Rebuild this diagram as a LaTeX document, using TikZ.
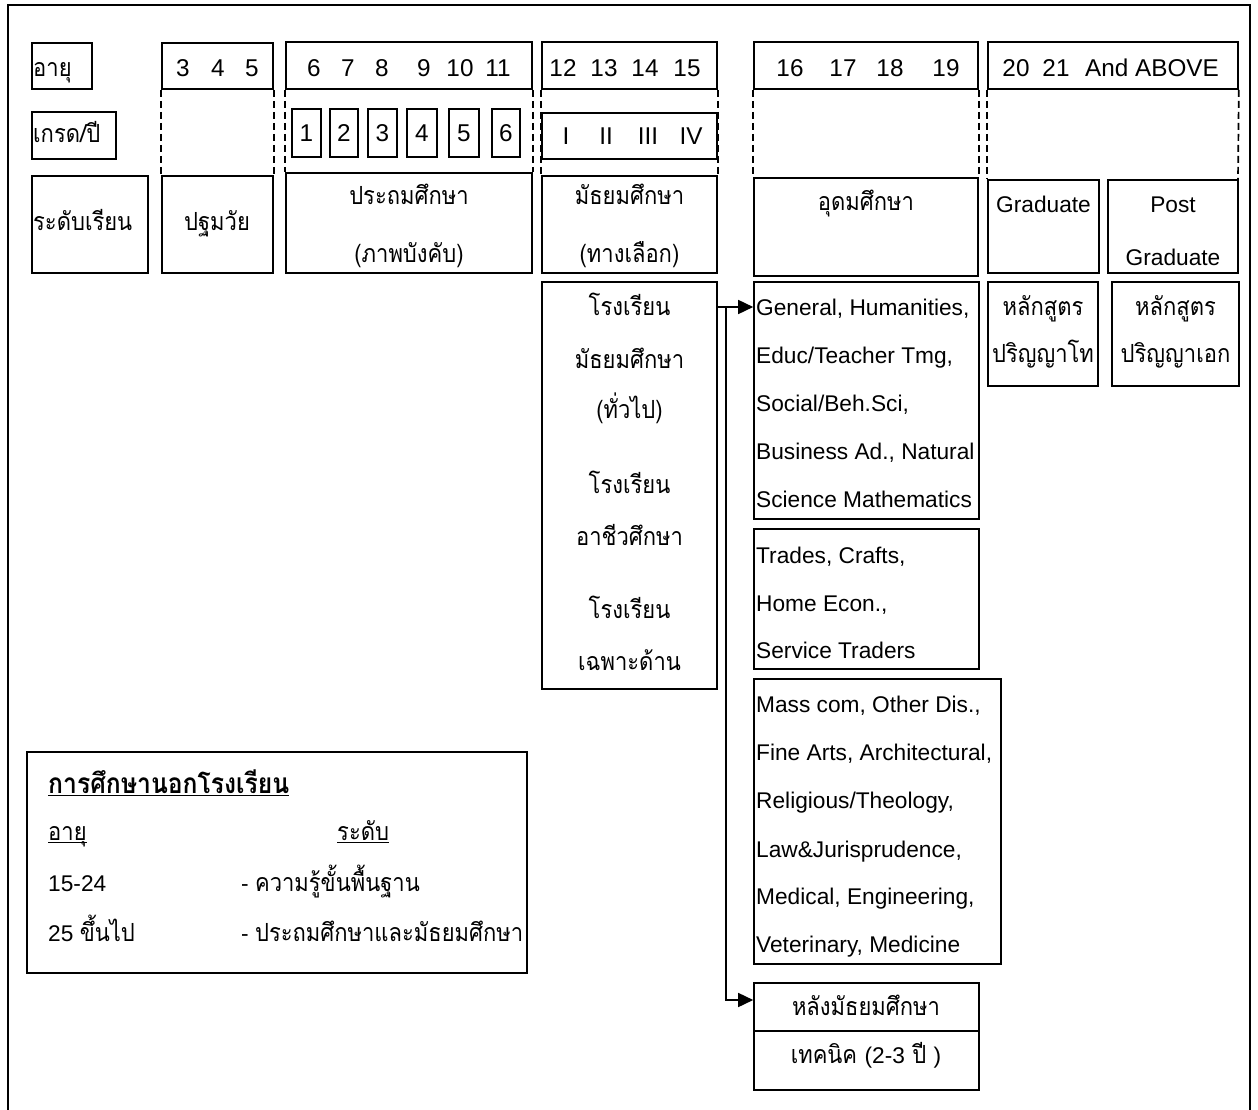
\documentclass[tikz,border=0pt]{standalone}
\usepackage{fontspec}
\setmainfont{Liberation Sans}
\newfontfamily\thf[Script=Thai,Scale=1.1,FakeStretch=0.88]{Loma}
\usetikzlibrary{arrows.meta,fit}
\newcommand{\ulx}[1]{\setbox0\hbox{#1}\rlap{\rule[-3pt]{\wd0}{1.3pt}}\box0}
\begin{document}
\begin{tikzpicture}[x=1pt,y=-1pt,
  bx/.style={draw, line width=1.6pt, inner sep=0pt},
  dsh/.style={line width=1.7pt, dash pattern=on 7pt off 4pt},
  tx/.style={inner sep=0pt, font=\fontsize{22.7}{27}\selectfont},
  hx/.style={tx, anchor=base, font=\fontsize{24.3}{28}\selectfont},
  lt/.style={tx, anchor=base west},
  ct/.style={tx, anchor=base},
  arr/.style={line width=1.6pt, -{Triangle[length=15pt,width=14pt]}}
]
\useasboundingbox (0,0) rectangle (1258,1110);
% outer frame (open at bottom)
\draw[line width=2.2pt] (8,1112) -- (8,5) -- (1250,5) -- (1250,1112);

% ---- row labels
\node[bx, fit={(32,43) (92,89)}] (ageL) {};
\node[bx, fit={(32,112) (116,159)}] (gradeL) {};
\node[bx, fit={(32,176) (148,273)}] (levelL) {};
\node[lt] (tAge) at (33,77) {\thf อายุ};
\node[lt] (tGrade) at (33,143) {\thf เกรด/ปี};
\node[lt] (tLevel) at (33,230) {\thf ระดับเรียน};

% ---- pre-school column
\node[bx, fit={(162,43) (273,89)}] (a3) {};
\node[bx, fit={(162,176) (273,273)}] (pre) {};
\draw[dsh] (a3.south west) -- (pre.north west);
\draw[dsh] (a3.south east) -- (pre.north east);
\node[hx] (n3) at (183,77) {3};
\node[hx] (n4) at (218,77) {4};
\node[hx] (n5) at (252,77) {5};
\node[ct] (tPre) at (217,230) {\thf ปฐมวัย};

% ---- primary column
\node[bx, fit={(286,42) (532,89)}] (a6) {};
\node[bx, fit={(286,173) (532,273)}] (prim) {};
\draw[dsh] (a6.south west) -- (prim.north west);
\draw[dsh] (a6.south east) -- (prim.north east);
\node[hx] (n6) at (314,77) {6};
\node[hx] (n7) at (348,77) {7};
\node[hx] (n8) at (382,77) {8};
\node[hx] (n9) at (424,77) {9};
\node[hx] (n10) at (460,77) {10};
\node[hx] (n11) at (498,77) {11};
\node[bx, fit={(292,109) (321,157)}] (g1) {};
\node[bx, fit={(330,109) (358,157)}] (g2) {};
\node[bx, fit={(368,109) (397,157)}] (g3) {};
\node[bx, fit={(407,109) (437,157)}] (g4) {};
\node[bx, fit={(449,109) (479,157)}] (g5) {};
\node[bx, fit={(492,109) (520,157)}] (g6) {};
\foreach \i in {1,...,6} { \node[hx] (tg\i) at ([yshift=-8.8pt]g\i.center) {\i}; }
\node[ct] (tPrim1) at (409,205) {\thf ประถมศึกษา};
\node[ct] (tPrim2) at (409,262) {\thf (ภาพบังคับ)};

% ---- secondary column
\node[bx, fit={(542,42) (717,89)}] (a12) {};
\node[bx, fit={(542,113) (717,159)}] (rom) {};
\node[bx, fit={(542,176) (717,273)}] (sec) {};
\draw[dsh] (a12.south west) -- (sec.north west);
\draw[dsh] (a12.south east) -- (sec.north east);
\node[hx] (n12) at (563,77) {12};
\node[hx] (n13) at (604,77) {13};
\node[hx] (n14) at (645,77) {14};
\node[hx] (n15) at (687,77) {15};
\node[hx] (r1) at (566,144.5) {I};
\node[hx] (r2) at (606,144.5) {II};
\node[hx] (r3) at (648,144.5) {III};
\node[hx] (r4) at (691,144.5) {IV};
\node[ct] (tSec1) at (629.5,205) {\thf มัธยมศึกษา};
\node[ct] (tSec2) at (629.5,262) {\thf (ทางเลือก)};

\node[bx, fit={(542,282) (717,689)}] (sch) {};
\node[ct] (s1) at (629.5,315) {\thf โรงเรียน};
\node[ct] (s2) at (629.5,368) {\thf มัธยมศึกษา};
\node[ct] (s3) at (629.5,418) {\thf (ทั่วไป)};
\node[ct] (s4) at (629.5,493) {\thf โรงเรียน};
\node[ct] (s5) at (629.5,545) {\thf อาชีวศึกษา};
\node[ct] (s6) at (629.5,618) {\thf โรงเรียน};
\node[ct] (s7) at (629.5,670) {\thf เฉพาะด้าน};

% ---- higher education column
\node[bx, fit={(754,42) (978,89)}] (a16) {};
\node[bx, fit={(754,178) (978,276)}] (high) {};
\draw[dsh] (a16.south west) -- (high.north west);
\draw[dsh] (a16.south east) -- (high.north east);
\node[hx] (n16) at (790,77) {16};
\node[hx] (n17) at (843,77) {17};
\node[hx] (n18) at (890,77) {18};
\node[hx] (n19) at (946,77) {19};
\node[ct] (tHigh) at (866,211) {\thf อุดมศึกษา};

\node[bx, fit={(754,282) (979,519)}] (gen) {};
\node[lt] (ge1) at (756,315) {General, Humanities,};
\node[lt] (ge2) at (756,363) {Educ/Teacher Tmg,};
\node[lt] (ge3) at (756,411) {Social/Beh.Sci,};
\node[lt] (ge4) at (756,459) {Business Ad., Natural};
\node[lt] (ge5) at (756,507) {Science Mathematics};

\node[bx, fit={(754,529) (979,669)}] (trd) {};
\node[lt] (tr1) at (756,563) {Trades, Crafts,};
\node[lt] (tr2) at (756,611) {Home Econ.,};
\node[lt] (tr3) at (756,658) {Service Traders};

\node[bx, fit={(754,679) (1001,964)}] (mass) {};
\node[lt] (ma1) at (756,712) {Mass com, Other Dis.,};
\node[lt] (ma2) at (756,760) {Fine Arts, Architectural,};
\node[lt] (ma3) at (756,808) {Religious/Theology,};
\node[lt] (ma4) at (756,857) {Law\&Jurisprudence,};
\node[lt] (ma5) at (756,904) {Medical, Engineering,};
\node[lt] (ma6) at (756,952) {Veterinary, Medicine};

\node[bx, fit={(754,983) (979,1031)}] (techA) {};
\node[bx, fit={(754,1031) (979,1090)}] (techB) {};
\node[ct] (te1) at (866,1015) {\thf หลังมัธยมศึกษา};
\node[ct] (te2) at (866,1063) {\thf เทคนิค {\rmfamily(2-3} ปี {\rmfamily)}};

% ---- graduate column
\node[bx, fit={(988,42) (1238,89)}] (a20) {};
\node[bx, fit={(988,180) (1099,273)}] (grad) {};
\node[bx, fit={(1108,180) (1238,273)}] (post) {};
\coordinate (gradR) at (1238,180);
\draw[dsh] (a20.south west) -- (grad.north west);
\draw[dsh] (a20.south east) -- (gradR);
\node[hx] (n20) at (1016,77) {20};
\node[hx] (n21) at (1056,77) {21};
\node[hx, anchor=base west] (nAb) at (1085,77) {And ABOVE};
\node[ct] (tGrad) at (1043.5,213) {Graduate};
\node[ct] (tPost1) at (1173,213) {Post};
\node[ct] (tPost2) at (1173,265) {Graduate};

\node[bx, fit={(988,282) (1098,386)}] (msc) {};
\node[bx, fit={(1112,282) (1239,386)}] (phd) {};
\node[ct] (ms1) at (1043,315) {\thf หลักสูตร};
\node[ct] (ms2) at (1043,362) {\thf ปริญญาโท};
\node[ct] (ph1) at (1175.5,315) {\thf หลักสูตร};
\node[ct] (ph2) at (1175.5,362) {\thf ปริญญาเอก};

% ---- connectors
\coordinate (j) at (726,307);
\coordinate (k) at (726,1000);
\draw[arr] (sch.east |- j) -- (gen.west |- j);
\draw[arr] (j) -- (k) -- (techA.west |- k);

% ---- legend
\node[bx, line width=1.9pt, fit={(27,752) (527,973)}] (leg) {};
\node[lt, font=\fontsize{25.5}{30}\selectfont] (lg1) at (48,793) {\ulx{\thf\bfseries การศึกษานอกโรงเรียน}};
\node[lt] (lg2) at (48,840) {\ulx{\thf อายุ}};
\node[lt] (lg3) at (337,840) {\ulx{\thf ระดับ}};
\node[lt] (lg4) at (48,891) {15-24};
\node[lt] (lg5) at (241,891) {- {\thf ความรู้ขั้นพื้นฐาน}};
\node[lt] (lg6) at (48,941) {25 {\thf ขึ้นไป}};
\node[lt] (lg7) at (241,941) {- {\thf ประถมศึกษาและมัธยมศึกษา}};
\end{tikzpicture}
\end{document}
